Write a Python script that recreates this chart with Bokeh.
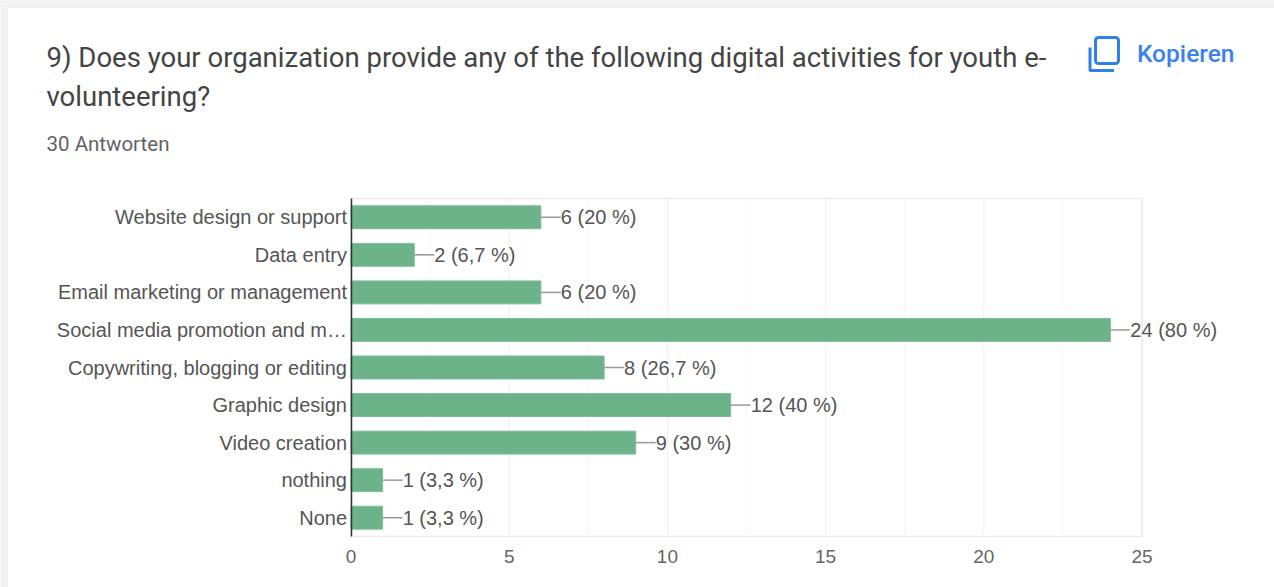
from bokeh.embed import file_html
from bokeh.models import BoxAnnotation, ColumnDataSource, FixedTicker, Label, PolyAnnotation
from bokeh.plotting import figure
from bokeh.resources import INLINE

# Survey results
categories = [
    "Website design or support",
    "Data entry",
    "Email marketing or management",
    "Social media promotion and m…",
    "Copywriting, blogging or editing",
    "Graphic design",
    "Video creation",
    "nothing",
    "None",
]
counts = [6, 2, 6, 24, 8, 12, 9, 1, 1]
respondents = 30
question_lines = [
    "9) Does your organization provide any of the following digital activities for youth e-",
    "volunteering?",
]
answers_label = "30 Antworten"
copy_label = "Kopieren"
major_ticks = [0, 5, 10, 15, 20, 25]
minor_ticks = [2.5, 7.5, 12.5, 17.5, 22.5]


def count_label(n):
    share = f"{100 * n / respondents:.1f}".replace(".", ",").removesuffix(",0")
    return f"{n} ({share} %)"


WIDTH, HEIGHT = 1274, 587
rows = list(range(len(categories)))
source = ColumnDataSource(dict(row=rows, n=counts))

# The frame fills the whole page so header texts are not clipped; the ranges are
# widened so the value axis and the rows land in the lower part of the card.
PLOT_LEFT, PLOT_RIGHT, PLOT_TOP, PLOT_BOTTOM = 350.5, 1141.5, 198, 536
x_scale = (PLOT_RIGHT - PLOT_LEFT) / major_ticks[-1]
y_scale = (PLOT_BOTTOM - PLOT_TOP) / len(rows)
row_top, row_bottom = -0.5, len(rows) - 0.5

p = figure(
    width=WIDTH, height=HEIGHT, output_backend="svg", toolbar_location=None,
    x_range=(-PLOT_LEFT / x_scale, (WIDTH - PLOT_LEFT) / x_scale),
    y_range=(row_bottom + (HEIGHT - PLOT_BOTTOM) / y_scale, row_top - PLOT_TOP / y_scale),
    min_border=0, background_fill_color="#f2f2f2", border_fill_color="#f2f2f2",
)
p.outline_line_color = None

# White card on the grey page, behind everything else
p.add_layout(BoxAnnotation(
    left=7, right=WIDTH, top=HEIGHT - 7, bottom=0,
    left_units="screen", right_units="screen", top_units="screen", bottom_units="screen",
    fill_color="#ffffff", fill_alpha=1, line_color="#e8e8e8", line_width=1,
    level="image", editable=False,
))

# Grid lines stop at the plotting area, so they are drawn as segments
p.segment(x0=minor_ticks, x1=minor_ticks, y0=row_top, y1=row_bottom,
          line_color="#f6f6f6", line_width=1, level="underlay")
p.segment(x0=major_ticks, x1=major_ticks, y0=row_top, y1=row_bottom,
          line_color="#efefef", line_width=1, level="underlay")

# Light border around the plotting area
p.quad(left=major_ticks[0], right=major_ticks[-1], top=row_top, bottom=row_bottom,
       fill_alpha=0, line_color="#ececec", line_width=1.5, level="underlay")

p.hbar(y="row", right="n", left=0, height=0.61, source=source,
       fill_color="#6db38a", line_color="#7dbd97", line_width=1)
p.ray(x="n", y="row", length=20, length_units="screen", angle=0,
      source=source, line_color="#9a9a9a", line_width=1.5)

for row, n in zip(rows, counts):
    p.add_layout(Label(
        x=n, y=row, x_offset=20, text=count_label(n),
        text_font="Liberation Sans", text_font_size="20px",
        text_color="#555555", text_baseline="middle", text_align="left",
    ))

# Axes live inside the frame at fixed positions
p.xaxis.fixed_location = row_bottom
p.xaxis.bounds = (major_ticks[0], major_ticks[-1])
p.xaxis.ticker = FixedTicker(ticks=major_ticks)
p.xaxis.axis_line_color = None
p.xaxis.major_tick_line_color = None
p.xaxis.minor_tick_line_color = None
p.xaxis.major_tick_out = 0
p.xaxis.major_label_text_font = "Liberation Sans"
p.xaxis.major_label_text_font_size = "19px"
p.xaxis.major_label_text_color = "#666666"
p.xaxis.major_label_standoff = 13

p.yaxis.fixed_location = 0
p.yaxis.bounds = (row_top, row_bottom)
p.yaxis.ticker = FixedTicker(ticks=rows)
p.yaxis.major_label_overrides = dict(zip(rows, categories))
p.yaxis.axis_line_color = "#333333"
p.yaxis.axis_line_width = 1.5
p.yaxis.major_tick_line_color = None
p.yaxis.minor_tick_line_color = None
p.yaxis.major_tick_out = 0
p.yaxis.major_label_text_font = "Liberation Sans"
p.yaxis.major_label_text_font_size = "20px"
p.yaxis.major_label_text_color = "#555555"
p.yaxis.major_label_standoff = 4

p.grid.grid_line_color = None


def header_label(text, x, y_from_top, size, color, font="Roboto", style="normal"):
    p.add_layout(Label(
        x=x, y=HEIGHT - y_from_top, x_units="screen", y_units="screen", text=text,
        text_font=font, text_font_size=size, text_color=color,
        text_font_style=style, text_baseline="middle", text_align="left",
    ))


header_label(question_lines[0], 46, 57, "27.5px", "#444444")
header_label(question_lines[1], 46, 96, "27.5px", "#444444")
header_label(answers_label, 46, 143, "20.5px", "#5f6368")
header_label(copy_label, 1136.5, 52.5, "24.5px", "#3b82ec", font="Roboto Medium")

# Copy icon: a rounded sheet with an L-shaped edge behind it
p.add_layout(BoxAnnotation(
    left=1095, right=1118, top=HEIGHT - 37, bottom=HEIGHT - 63,
    left_units="screen", right_units="screen", top_units="screen", bottom_units="screen",
    fill_alpha=0, line_color="#2f80ed", line_alpha=1, line_width=3, border_radius=3,
    editable=False,
))
p.add_layout(PolyAnnotation(
    xs=[1089.5, 1089.5, 1113.5, 1089.5], ys=[HEIGHT - 47, HEIGHT - 70, HEIGHT - 70, HEIGHT - 70],
    xs_units="screen", ys_units="screen",
    fill_alpha=0, line_color="#2f80ed", line_alpha=1, line_width=3, editable=False,
))

with open("out.html", "w") as f:
    f.write(file_html(p, INLINE))
